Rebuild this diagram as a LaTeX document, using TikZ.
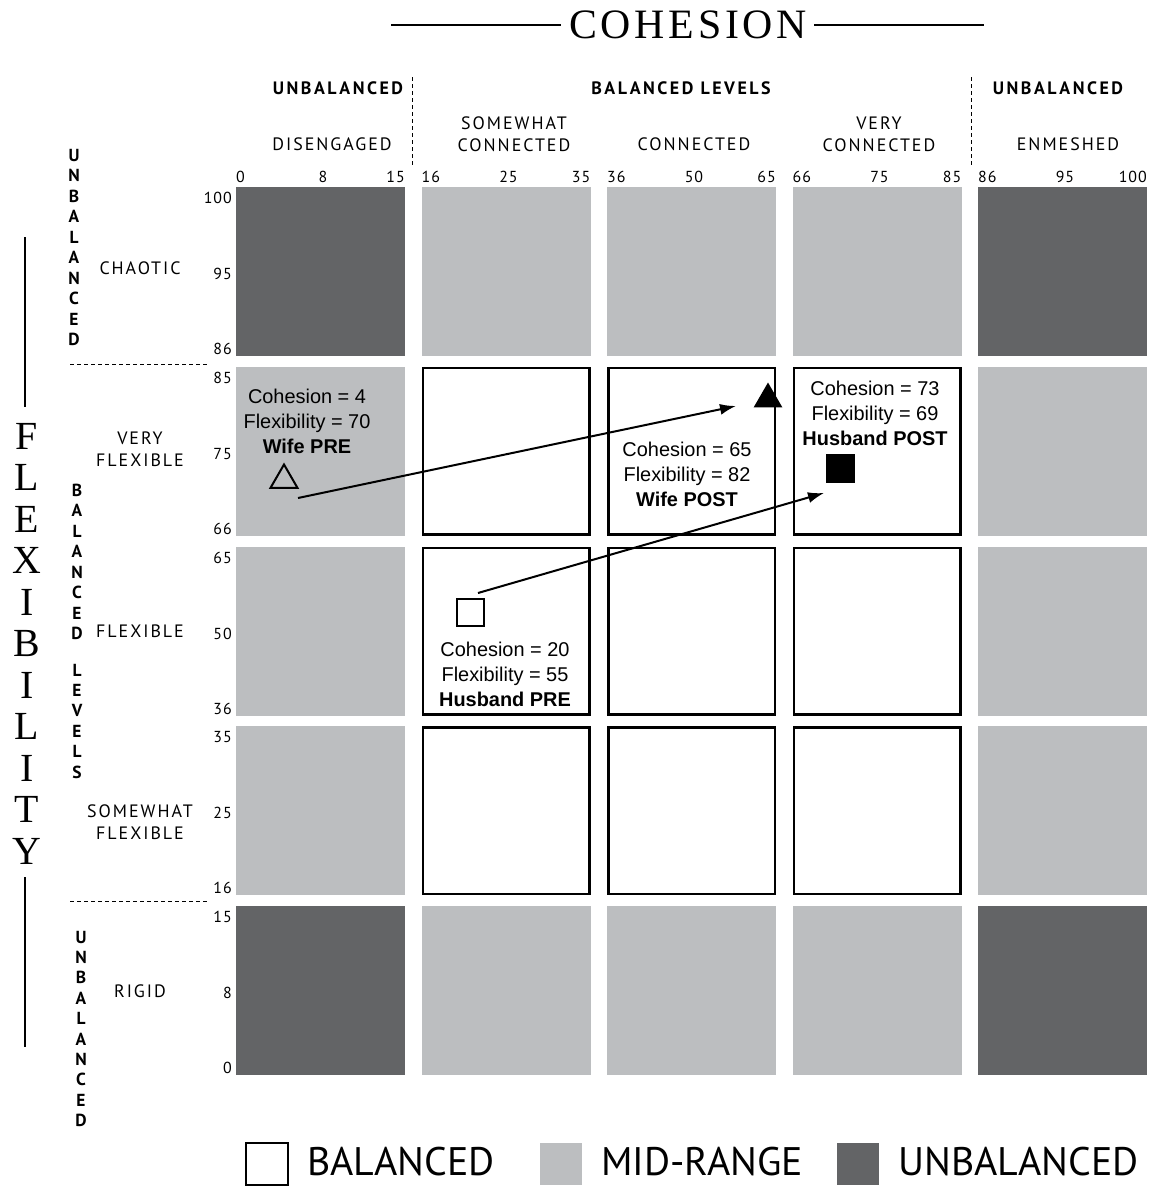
\documentclass[tikz,border=0pt]{standalone}
\usepackage{fontspec}
\usetikzlibrary{arrows.meta,shapes.geometric}
\setmainfont{Liberation Serif}
\setsansfont{PT Sans}
\newfontfamily\capsfont[LetterSpace=11]{PT Sans}
\newfontfamily\headfont[LetterSpace=14]{PT Sans}
\newfontfamily\tickfont[LetterSpace=6]{PT Sans}
\newfontfamily\titlefont[LetterSpace=9]{Liberation Serif}
\newfontfamily\notefont{Liberation Sans}
\definecolor{midrange}{HTML}{BCBEC0}
\definecolor{unbalgray}{HTML}{636466}

\tikzset{
  balcell/.style={draw=black,line width=2.5bp,fill=white},
  levelhead/.style={font={\headfont\bfseries\fontsize{18}{18}\selectfont},inner sep=0pt},
  levelname/.style={font={\capsfont\fontsize{18}{22}\selectfont},align=center,inner sep=0pt},
  tick/.style={font={\tickfont\fontsize{16}{16}\selectfont},inner sep=0pt},
  stackletter/.style={font={\sffamily\bfseries\fontsize{17.5}{17.5}\selectfont},inner sep=0pt},
  axisletter/.style={font={\titlefont\fontsize{40}{40}\selectfont},inner sep=0pt},
  note/.style={font={\notefont\fontsize{20}{25}\selectfont},align=center,inner sep=0pt},
  marker/.style={draw=black,line width=2bp,inner sep=0pt},
  move/.style={line width=2bp,-{Latex[length=16bp,width=11bp]}},
  sepline/.style={line width=0.8bp,dash pattern=on 4bp off 3bp},
  legendbox/.style={minimum size=42bp,inner sep=0pt},
  legendtext/.style={font={\sffamily\fontsize{40}{40}\selectfont},inner sep=0pt,anchor=west}
}

\begin{document}
\begin{tikzpicture}[x=1bp,y=-1bp]
\useasboundingbox (0,0) rectangle (1153,1186);

% Grid dimensions (pixels, y downwards)
\def\cellW{169}
\def\colStep{185.5}
\def\rowStep{179.8}

% Title lines
\node[font={\titlefont\fontsize{42}{42}\selectfont},inner sep=0pt] (cohesion) at (688,25) {COHESION};
\draw[line width=1.5bp] (391,25) -- (561,25);
\draw[line width=1.5bp] (814,25) -- (984,25);
\draw[line width=1.5bp] (25,237) -- (25,407);
\draw[line width=1.5bp] (25,877) -- (25,1047);

% FLEXIBILITY, one letter under the other
\foreach \ch [count=\i] in {F,L,E,X,I,B,I,L,I,T,Y} {
    \node[axisletter] (flex\i) at (27,436+41.5*\i-41.5) {\ch};
}

% Cells: 0 balanced, 1 mid-range, 2 unbalanced
\foreach \r in {0,...,4} {
    \foreach \c in {0,...,4} {
        \pgfmathsetmacro{\xl}{236+\c*\colStep}
        \pgfmathsetmacro{\yt}{187+\r*\rowStep}
        \pgfmathtruncatemacro{\kind}{((\r==0)||(\r==4))+((\c==0)||(\c==4))}
        \ifcase\kind
            \draw[balcell] (\xl+1.25,\yt+1.25) rectangle (\xl+\cellW-1.25,\yt+\cellW-1.25);
        \or
            \fill[midrange] (\xl,\yt) rectangle (\xl+\cellW,\yt+\cellW);
        \or
            \fill[unbalgray] (\xl,\yt) rectangle (\xl+\cellW,\yt+\cellW);
        \fi
    }
}

% Cohesion scale
\foreach \c/\a/\b/\d in {0/0/8/15,1/16/25/35,2/36/50/65,3/66/75/85,4/86/95/100} {
    \pgfmathsetmacro{\xl}{236+\c*\colStep}
    \node[tick,anchor=west] (ca\c) at (\xl,177) {\a};
    \node[tick] (cb\c) at (\xl+87,177) {\b};
    \node[tick,anchor=east] (cd\c) at (\xl+\cellW,177) {\d};
}

% Flexibility scale
\foreach \r/\a/\b/\d in {0/100/95/86,1/85/75/66,2/65/50/36,3/35/25/16,4/15/8/0} {
    \pgfmathsetmacro{\yt}{187+\r*\rowStep}
    \node[tick,anchor=east] (fa\r) at (232,\yt+11) {\a};
    \node[tick,anchor=east] (fb\r) at (232,\yt+87) {\b};
    \node[tick,anchor=east] (fd\r) at (232,\yt+162) {\d};
}

% Level headings
\node[levelhead] (cohunbl) at (338,88) {UNBALANCED};
\node[levelhead] (cohbal) at (681,88) {BALANCED\hspace{0.4em}LEVELS};
\node[levelhead] (cohunbr) at (1058,88) {UNBALANCED};
\draw[sepline] (412,77) -- (412,167);
\draw[sepline] (971,77) -- (971,167);

\node[levelname] (disengaged) at (332,144) {DISENGAGED};
\node[levelname] (somewhatcon) at (514,134) {SOMEWHAT\\CONNECTED};
\node[levelname] (connected) at (694,144) {CONNECTED};
\node[levelname] (verycon) at (879,134) {VERY\\CONNECTED};
\node[levelname] (enmeshed) at (1068,144) {ENMESHED};

\node[levelname] (chaotic) at (140,268) {CHAOTIC};
\node[levelname] (veryflex) at (140,449) {VERY\\FLEXIBLE};
\node[levelname] (flexible) at (140,631) {FLEXIBLE};
\node[levelname] (somewhatflex) at (140,822) {SOMEWHAT\\FLEXIBLE};
\node[levelname] (rigid) at (140,991) {RIGID};

% Stacked side headings
\foreach \ch [count=\i] in {U,N,B,A,L,A,N,C,E,D} {
    \node[stackletter] (ut\i) at (74,155+20.5*\i-20.5) {\ch};
    \node[stackletter] (ub\i) at (81,937+20.4*\i-20.4) {\ch};
}
\foreach \ch [count=\i] in {B,A,L,A,N,C,E,D} {
    \node[stackletter] (bl\i) at (77,490+20.5*\i-20.5) {\ch};
}
\foreach \ch [count=\i] in {L,E,V,E,L,S} {
    \node[stackletter] (lv\i) at (77,670+20.4*\i-20.4) {\ch};
}
\draw[sepline] (70,364) -- (207,364);
\draw[sepline] (70,901) -- (207,901);

% Couples
\node[note] (wifepre) at (307,421) {Cohesion = 4\\Flexibility = 70\\\textbf{Wife PRE}};
\node[marker,regular polygon,regular polygon sides=3,minimum size=31bp] (wpre) at (284,480) {};
\node[marker,regular polygon,regular polygon sides=3,minimum size=29bp,fill=black] (wpost) at (768,399) {};
\node[note] (wifepost) at (687,474) {Cohesion = 65\\Flexibility = 82\\\textbf{Wife POST}};

\node[marker,minimum size=27bp] (hpre) at (470,612) {};
\node[note] (husbandpre) at (505,674) {Cohesion = 20\\Flexibility = 55\\\textbf{Husband PRE}};
\node[marker,minimum size=27bp,fill=black] (hpost) at (840,468) {};
\node[note] (husbandpost) at (875,413) {Cohesion = 73\\Flexibility = 69\\\textbf{Husband POST}};

\coordinate (wtail) at (298,498);
\coordinate (wtip) at (736,406);
\coordinate (htail) at (478,593);
\coordinate (htip) at (824,493);
\draw[move] (wtail) -- (wtip);
\draw[move] (htail) -- (htip);

% Legend
\node[legendbox,draw=black,line width=2bp] (keybal) at (267,1164) {};
\node[legendtext] (keybaltext) at (307,1162) {BALANCED};
\node[legendbox,fill=midrange] (keymid) at (561,1164) {};
\node[legendtext] (keymidtext) at (601,1162) {MID-RANGE};
\node[legendbox,fill=unbalgray] (keyunb) at (858,1164) {};
\node[legendtext] (keyunbtext) at (898,1162) {UNBALANCED};

\end{tikzpicture}
\end{document}
